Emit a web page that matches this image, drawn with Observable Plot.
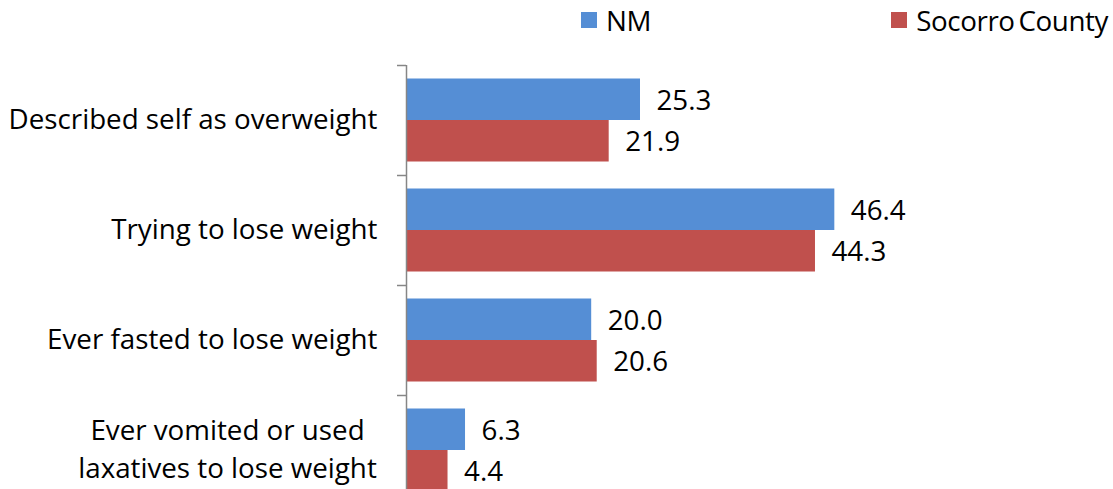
<!DOCTYPE html>
<html>
<head>
<meta charset="utf-8">
<script src="https://cdn.jsdelivr.net/npm/d3@7"></script>
<script src="https://cdn.jsdelivr.net/npm/@observablehq/plot@0.6"></script>
<style>
  html, body { margin: 0; padding: 0; background: #fff; overflow: hidden; }
  #legend { position: relative; height: 40px; width: 1113px; }
  .item { position: absolute; top: 0; height: 40px; display: flex; align-items: center; color: #000; white-space: nowrap; }
  .sw { width: 16px; height: 16px; margin-right: 9px; flex: none; }
</style>
</head>
<body>
<div id="legend"></div>
<div id="chart"></div>
<script>
const categories = [
  "Described self as overweight",
  "Trying to lose weight",
  "Ever fasted to lose weight",
  "Ever vomited or used\nlaxatives to lose weight"
];
const series = ["NM", "Socorro County"];
const nmValues = [25.3, 46.4, 20.0, 6.3];
const socorroValues = [21.9, 44.3, 20.6, 4.4];
const colors = ["#558ED5", "#C0504D"];

const FONT = "Open Sans";
function fitSize(text, target) {
  const ctx = document.createElement("canvas").getContext("2d");
  ctx.font = `100px "${FONT}"`;
  return 100 * target / ctx.measureText(text).width;
}
const fs = fitSize("Described self as overweight", 369);

// layout constants (band fraction left empty above/below each group)
const gapFrac = 0.1227;
const rows = [];
categories.forEach((c, i) => {
  [nmValues, socorroValues].forEach((vals, s) => {
    const y1 = s === 0 ? i + gapFrac : i + 0.5;
    const y2 = s === 0 ? i + 0.5 : i + 1 - gapFrac;
    rows.push({category: c, series: series[s], value: vals[i], y1, y2});
  });
});
const labelRows = categories.map((c, i) => ({label: c, pos: i + 0.5, multi: c.includes("\n")}));

// legend
const legend = document.getElementById("legend");
series.forEach((s, k) => {
  const el = document.createElement("div");
  el.className = "item";
  if (k === 0) el.style.left = "581px"; else el.style.right = "5px";
  el.style.fontFamily = `"${FONT}"`;
  el.style.fontSize = fs + "px";
  el.style.wordSpacing = "-3px";
  el.style.letterSpacing = "-0.4px";
  el.innerHTML = `<span class="sw" style="background:${colors[k]}"></span><span>${s}</span>`;
  legend.appendChild(el);
});

const chart = Plot.plot({
  width: 1113,
  height: 449,
  marginTop: 25,
  marginBottom: -16,
  marginLeft: 407,
  marginRight: 0,
  style: {fontFamily: `"${FONT}"`, fontSize: fs + "px", color: "#000", background: "#fff"},
  x: {domain: [0, 76.66], axis: null},
  y: {domain: [0, 4], reverse: true, axis: null},
  color: {domain: series, range: colors},
  marks: [
    Plot.rect(rows, {x1: 0, x2: "value", y1: "y1", y2: "y2", fill: "series"}),
    Plot.ruleX([0], {dx: -1, stroke: "#868686", strokeWidth: 1.5}),
    Plot.axisY({ticks: [0, 1, 2, 3, 4], tickSize: 9, tickFormat: () => "", dx: -1, stroke: "#868686", strokeWidth: 1.5, label: null}),
    Plot.text(rows, {x: "value", y: d => (d.y1 + d.y2) / 2, text: d => d.value.toFixed(1), dx: 16, dy: 1, textAnchor: "start", fill: "#000", fontSize: fs}),
    Plot.text(labelRows.filter(d => !d.multi), {x: 0, y: "pos", text: "label", textAnchor: "end", dx: -30, fill: "#000", fontSize: fs}),
    Plot.text(labelRows.filter(d => d.multi), {x: 0, y: "pos", text: "label", textAnchor: "middle", dx: -180, dy: -4, lineHeight: 38 / fs, fill: "#000", fontSize: fs})
  ]
});
document.getElementById("chart").appendChild(chart);
</script>
</body>
</html>
